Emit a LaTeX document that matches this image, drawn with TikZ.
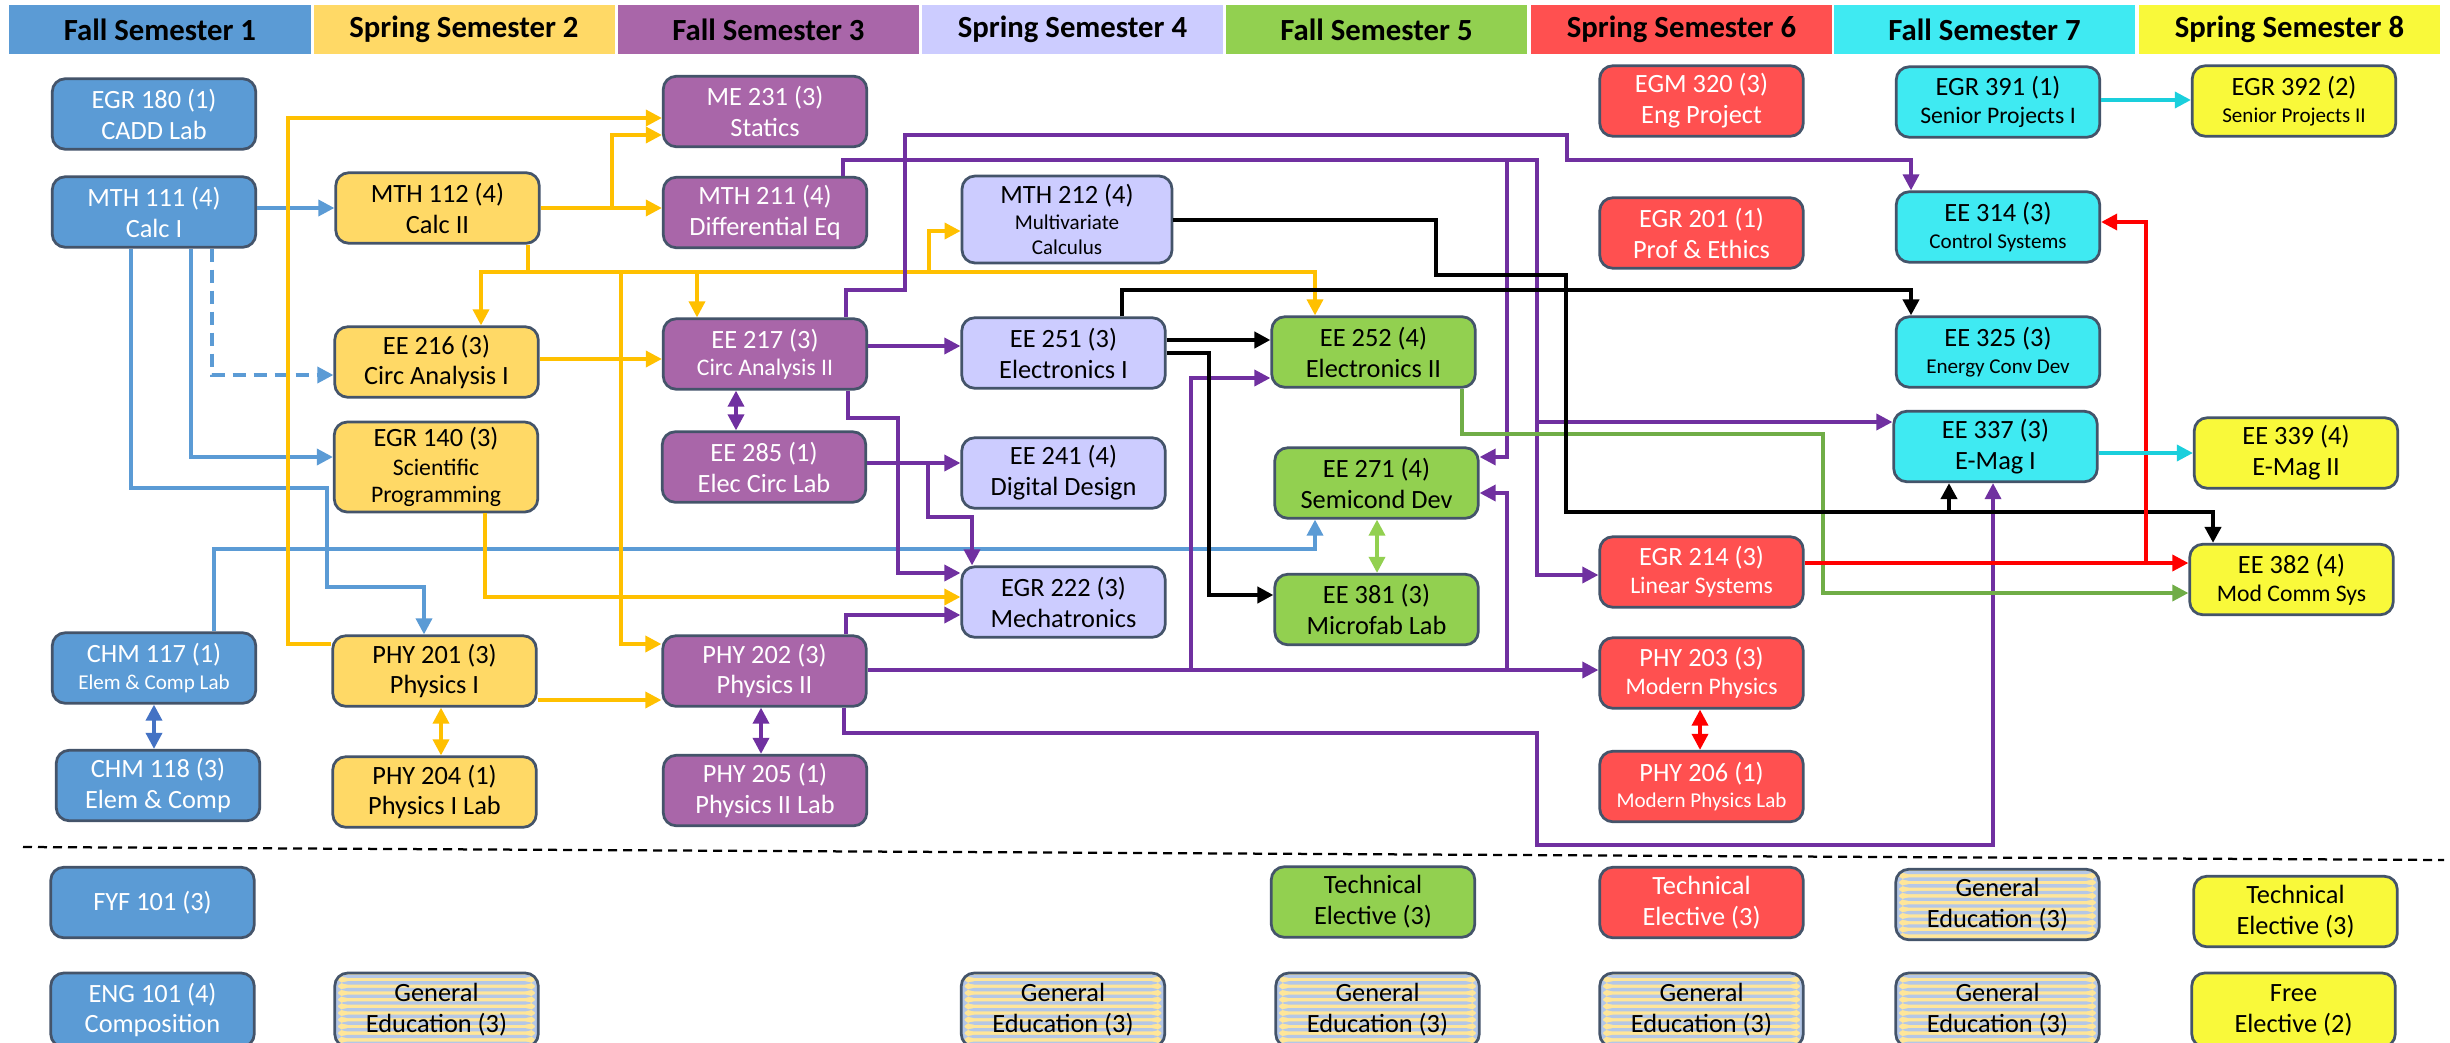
\documentclass[tikz,border=0pt]{standalone}
\usepackage{fontspec}
\setmainfont{Carlito}
\usetikzlibrary{arrows.meta}
\definecolor{cA}{HTML}{5B9BD5}
\definecolor{cB}{HTML}{FFD966}
\definecolor{cC}{HTML}{A966A9}
\definecolor{cD}{HTML}{CCCCFF}
\definecolor{cE}{HTML}{92D050}
\definecolor{cF}{HTML}{FF5050}
\definecolor{cG}{HTML}{3FEAF2}
\definecolor{cH}{HTML}{F9F93A}
\definecolor{bord}{HTML}{44546A}
\definecolor{lnblue}{HTML}{5B9BD5}
\definecolor{lndblue}{HTML}{4472C4}
\definecolor{lngold}{HTML}{FFC000}
\definecolor{lnpurple}{HTML}{7030A0}
\definecolor{lngreen}{HTML}{70AD47}
\definecolor{lnlgreen}{HTML}{92D050}
\definecolor{lnred}{HTML}{FF0000}
\definecolor{lncyan}{HTML}{1ACFDC}
\definecolor{stY}{HTML}{FFE699}
\definecolor{stB}{HTML}{B4C7E7}
\newcommand{\Ls}[1]{{\fontsize{12}{14}\selectfont #1}}
\newcommand{\Lm}[1]{{\fontsize{13.5}{16}\selectfont #1}}
\begin{document}
\begin{tikzpicture}[x=0.2mm,y=-0.2mm,
  course/.style={draw=bord, line width=0.55mm, rounded corners=2.6mm, align=center,
    inner sep=0pt, minimum width=40.7mm, minimum height=14.1mm,
    font=\fontsize{15}{17.6}\selectfont},
  ca/.style={course, fill=cA, text=white},
  cb/.style={course, fill=cB, text=black},
  cc/.style={course, fill=cC, text=white},
  cd/.style={course, fill=cD, text=black},
  ce/.style={course, fill=cE, text=black},
  cf/.style={course, fill=cF, text=white},
  cg/.style={course, fill=cG, text=black},
  ch/.style={course, fill=cH, text=black},
  gened/.style={course, fill=stY, text=black,
    path picture={\foreach \k in {0,...,12}{\fill[stB]
      ([yshift=-\k*1.34mm-0.3mm]path picture bounding box.north west) rectangle
      ([yshift=-\k*1.34mm-0.97mm]path picture bounding box.north east);}}},
  hdr/.style={minimum height=9.8mm, minimum width=60.2mm, inner sep=0pt,
    font=\fontsize{17.5}{20}\selectfont\bfseries},
  ln/.style={line width=0.7mm, -{Triangle[length=3.2mm,width=3.2mm]}},
  dbl/.style={line width=0.7mm, {Triangle[length=3.2mm,width=3.2mm]}-{Triangle[length=3.2mm,width=3.2mm]}},
]
\useasboundingbox (0,0) rectangle (2450,1042);
\fill[white] (0,0) rectangle (2450,1042);

% headers
\node[hdr, fill=cA] (h1) at (160,29.5) {Fall Semester 1};
\node[hdr, fill=cB] (h2) at (464,29.5) {Spring Semester 2};
\node[hdr, fill=cC] (h3) at (768.5,29.5) {Fall Semester 3};
\node[hdr, fill=cD] (h4) at (1072.5,29.5) {Spring Semester 4};
\node[hdr, fill=cE] (h5) at (1376.5,29.5) {Fall Semester 5};
\node[hdr, fill=cF] (h6) at (1681.5,29.5) {Spring Semester 6};
\node[hdr, fill=cG] (h7) at (1984.5,29.5) {Fall Semester 7};
\node[hdr, fill=cH] (h8) at (2289.5,29.5) {Spring Semester 8};

% column 1
\node[ca] (egr180) at (154,114) {EGR 180 (1)\\CADD Lab};
\node[ca] (mth111) at (154,212) {MTH 111 (4)\\Calc I};
\node[ca] (chm117) at (154,668) {CHM 117 (1)\\[-2.5pt]\Ls{Elem \& Comp Lab}};
\node[ca] (chm118) at (158,785.5) {CHM 118 (3)\\Elem \& Comp};
\node[ca] (fyf101) at (152.5,902.5) {FYF 101 (3)};
\node[ca, minimum height=14.8mm] (eng101) at (152.5,1010) {ENG 101 (4)\\Composition};
% column 2
\node[cb] (mth112) at (437.5,208) {MTH 112 (4)\\Calc II};
\node[cb] (ee216) at (436.5,362) {EE 216 (3)\\Circ Analysis I};
\node[cb, minimum height=18mm] (egr140) at (436,467) {EGR 140 (3)\\[-1pt]\Lm{Scientific}\\[-2pt]\Lm{Programming}};
\node[cb] (phy201) at (434.5,671) {PHY 201 (3)\\Physics I};
\node[cb] (phy204) at (434.5,792) {PHY 204 (1)\\Physics I Lab};
\node[gened, minimum height=14.8mm] (gened2) at (436.5,1010) {General\\Education (3)};
% column 3
\node[cc] (me231) at (765,111.5) {ME 231 (3)\\Statics};
\node[cc] (mth211) at (765,212.5) {MTH 211 (4)\\Differential Eq};
\node[cc] (ee217) at (765,354) {EE 217 (3)\\[-2pt]\Lm{Circ Analysis II}};
\node[cc] (ee285) at (764,467) {EE 285 (1)\\Elec Circ Lab};
\node[cc] (phy202) at (764.5,671) {PHY 202 (3)\\Physics II};
\node[cc] (phy205) at (765,790.5) {PHY 205 (1)\\Physics II Lab};
% column 4
\node[cd, minimum width=42mm, minimum height=17.4mm] (mth212) at (1067,219.5) {MTH 212 (4)\\[-3pt]\Ls{Multivariate}\\[-3pt]\Ls{Calculus}};
\node[cd] (ee251) at (1063.5,353) {EE 251 (3)\\Electronics I};
\node[cd] (ee241) at (1063.5,473) {EE 241 (4)\\Digital Design};
\node[cd] (egr222) at (1063.5,602) {EGR 222 (3)\\Mechatronics};
\node[gened, minimum height=14.8mm] (gened4) at (1063,1010) {General\\Education (3)};
% column 5
\node[ce] (ee252) at (1373.5,352) {EE 252 (4)\\Electronics II};
\node[ce] (ee271) at (1376.5,483) {EE 271 (4)\\Semicond Dev};
\node[ce] (ee381) at (1376.5,609.5) {EE 381 (3)\\Microfab Lab};
\node[ce] (tech5) at (1373,902) {Technical\\Elective (3)};
\node[gened, minimum height=14.8mm] (gened5) at (1377.5,1010) {General\\Education (3)};
% column 6
\node[cf] (egm320) at (1701.5,101) {EGM 320 (3)\\Eng Project};
\node[cf] (egr201) at (1701.5,233) {EGR 201 (1)\\Prof \& Ethics};
\node[cf] (egr214) at (1701.5,572) {EGR 214 (3)\\[-1.8pt]\Lm{Linear Systems}};
\node[cf] (phy203) at (1701.5,673) {PHY 203 (3)\\[-1.8pt]\Lm{Modern Physics}};
\node[cf] (phy206) at (1701.5,786.5) {PHY 206 (1)\\[-2.5pt]\Ls{Modern Physics Lab}};
\node[cf] (tech6) at (1701.5,902.5) {Technical\\Elective (3)};
\node[gened, minimum height=14.8mm] (gened6) at (1701.5,1010) {General\\Education (3)};
% column 7
\node[cg] (egr391) at (1998,102) {EGR 391 (1)\\[-1.8pt]\Lm{Senior Projects I}};
\node[cg] (ee314) at (1998,227) {EE 314 (3)\\[-2.5pt]\Ls{Control Systems}};
\node[cg] (ee325) at (1998,352) {EE 325 (3)\\[-2.5pt]\Ls{Energy Conv Dev}};
\node[cg] (ee337) at (1995.5,446.5) {EE 337 (3)\\E-Mag I};
\node[gened] (gened7a) at (1997.5,904.5) {General\\Education (3)};
\node[gened, minimum height=14.8mm] (gened7b) at (1997.5,1010) {General\\Education (3)};
% column 8
\node[ch] (egr392) at (2294,101) {EGR 392 (2)\\[-2.5pt]\Ls{Senior Projects II}};
\node[ch] (ee339) at (2296,453) {EE 339 (4)\\E-Mag II};
\node[ch] (ee382) at (2291.5,579.5) {EE 382 (4)\\[-1.8pt]\Lm{Mod Comm Sys}};
\node[ch] (tech8) at (2295.5,911.5) {Technical\\Elective (3)};
\node[ch, minimum height=14.8mm] (free8) at (2293.5,1010) {Free\\Elective (2)};

% routing coordinates
\foreach \v in {131,154,191,212,214,288,327,424,441,481,485,528,612,621,697,736,761,843,844,846,848,898,905,928,929,972,1122,1191,1209,1315,1377,1436,1462,1507,1537,1566,1567,1700,1823,1911,1949,1993,2146,2213}
  {\coordinate (x\v) at (\v,0);}
\foreach \v in {100,118,135,160,220,222,231,272,275,290,340,346,353,359,375,378,418,422,434,453,457,463,488,493,512,517,549,563,573,575,587,593,595,597,615,644,670,700,733,845}
  {\coordinate (y\v) at (0,\v);}

% blue
\draw[ln, lnblue] (mth111.east |- mth112.west) -- (mth112.west);
\draw[ln, lnblue, dash pattern=on 2.6mm off 1.6mm] (mth111.south -| x212) |- (ee216.west |- y375);
\draw[ln, lnblue] (mth111.south -| x191) |- (egr140.west |- y457);
\draw[ln, lnblue] (mth111.south -| x131) |- (x327 |- y488) |- (x424 |- y587) -- (phy201.north -| x424);
\draw[ln, lnblue] (chm117.north -| x214) |- (x1315 |- y549) -- (ee271.south -| x1315);
\draw[dbl, lndblue] (chm117.south -| x154) -- (chm118.north -| x154);

% gold
\draw[ln, lngold] (mth112.east) -- (mth211.west |- mth112.east);
\draw[ln, lngold] (x612 |- mth112.east) |- (me231.west |- y135);
\draw[ln, lngold] (mth112.south -| x528) -- (x528 |- y272) -| (ee216.north -| x481);
\draw[ln, lngold] (x528 |- y272) -| (ee217.north -| x697);
\draw[ln, lngold] (x528 |- y272) -| (x929 |- y231) -- (mth212.west |- y231);
\draw[ln, lngold] (x528 |- y272) -| (ee252.north -| x1315);
\draw[ln, lngold] (x621 |- y272) |- (phy202.west |- y644);
\draw[ln, lngold] (phy201.west |- y644) -| (x288 |- y118) -- (me231.west |- y118);
\draw[ln, lngold] (ee216.east |- y359) -- (ee217.west |- y359);
\draw[ln, lngold] (phy201.east |- y700) -- (phy202.west |- y700);
\draw[dbl, lngold] (phy201.south -| x441) -- (phy204.north -| x441);
\draw[ln, lngold] (egr140.south -| x485) |- (egr222.west |- y597);

% purple
\draw[dbl, lnpurple] (ee217.south -| x736) -- (ee285.north -| x736);
\draw[ln, lnpurple] (ee217.east |- y346) -- (ee251.west |- y346);
\draw[dbl, lnpurple] (phy202.south -| x761) -- (phy205.north -| x761);
\draw[ln, lnpurple] (ee285.east |- y463) -- (ee241.west |- y463);
\draw[ln, lnpurple] (x928 |- y463) |- (x972 |- y517) -- (egr222.north -| x972);
\draw[ln, lnpurple] (ee217.south -| x848) |- (x898 |- y418) |- (egr222.west |- y573);
\draw[ln, lnpurple] (phy202.north -| x846) |- (egr222.west |- y615);
\draw[ln, lnpurple] (phy202.east |- y670) -- (phy203.west |- y670);
\draw[ln, lnpurple] (x1191 |- y670) |- (ee252.west |- y378);
\draw[ln, lnpurple] (x1507 |- y670) |- (ee271.east |- y493);
\draw[ln, lnpurple] (phy202.south -| x844) |- (x1537 |- y733) |- (x1993 |- y845) -- (ee337.south -| x1993);
\draw[ln, lnpurple] (ee217.north -| x846) |- (x905 |- y290) |- (x1567 |- y135) |- (x1911 |- y160) -- (ee314.north -| x1911);
\draw[ln, lnpurple] (mth211.north -| x843) |- (x1537 |- y160) |- (egr214.west |- y575);
\draw[ln, lnpurple] (x1507 |- y160) |- (ee271.east |- y457);
\draw[ln, lnpurple] (x1537 |- y422) -- (ee337.west |- y422);

% green
\draw[ln, lngreen] (ee252.south -| x1462) |- (x1823 |- y434) |- (ee382.west |- y593);
\draw[dbl, lnlgreen] (ee271.south -| x1377) -- (ee381.north -| x1377);

% black
\draw[ln, black, line width=0.8mm] (ee251.east |- y340) -- (ee252.west |- y340);
\draw[ln, black, line width=0.8mm] (ee251.east |- y353) -| (x1209 |- y595) -- (ee381.west |- y595);
\draw[ln, black, line width=0.8mm] (ee251.north -| x1122) |- (x1911 |- y290) -- (ee325.north -| x1911);
\draw[ln, black, line width=0.8mm] (mth212.east |- y220) -| (x1436 |- y275) -| (x1566 |- y512) -| (ee382.north -| x2213);
\draw[ln, black, line width=0.8mm] (x1949 |- y512) -- (ee337.south -| x1949);

% red
\draw[ln, lnred] (egr214.east |- y563) -- (ee382.west |- y563);
\draw[ln, lnred] (x2146 |- y563) |- (ee314.east |- y222);
\draw[dbl, lnred] (phy203.south -| x1700) -- (phy206.north -| x1700);

% cyan
\draw[ln, lncyan] (egr391.east |- y100) -- (egr392.west |- y100);
\draw[ln, lncyan] (ee337.east |- y453) -- (ee339.west |- y453);

% separator
\draw[black, line width=0.45mm, dash pattern=on 1.8mm off 1.2mm] (23,847) -- (2444,860);
\end{tikzpicture}
\end{document}
